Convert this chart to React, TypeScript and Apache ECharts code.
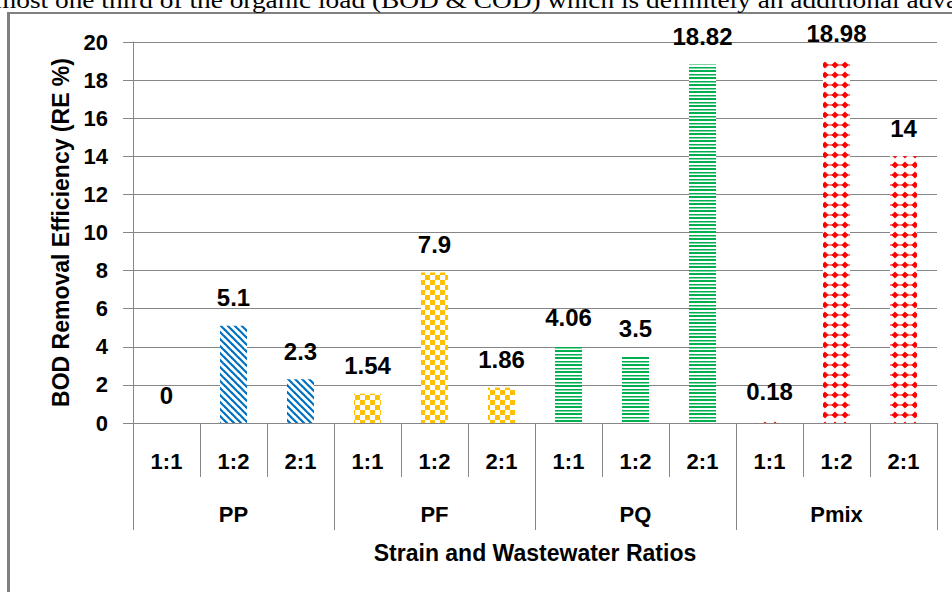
import React, { useEffect, useRef } from "react";
import * as echarts from "echarts";

const ratioLabels = ["1:1", "1:2", "2:1", "1:1", "1:2", "2:1", "1:1", "1:2", "2:1", "1:1", "1:2", "2:1"];
const strainLabels = ["PP", "PF", "PQ", "Pmix"];
const removalEfficiency = [0, 5.1, 2.3, 1.54, 7.9, 1.86, 4.06, 3.5, 18.82, 0.18, 18.98, 14];
const strainColors = ["#0070C0", "#FFC000", "#00B050", "#FF0000"];
const strainPatterns = ["stripes", "checker", "hlines", "diamonds"];
const yMin = 0;
const yMax = 20;
const yInterval = 2;
const yTitle = "BOD Removal Efficiency (RE %)";
const xTitle = "Strain and Wastewater Ratios";
const topText = "most one third of the organic load (BOD & COD) which is definitely an additional advantage";

const FONT = '"Liberation Sans", Arial, sans-serif';
const GRID = "#868686";

function makePattern(kind: string, color: string) {
  const c = document.createElement("canvas");
  let w = 8, h = 8;
  if (kind === "stripes") { w = 7; h = 7; }
  if (kind === "checker") { w = 10; h = 10; }
  if (kind === "hlines") { w = 4; h = 7; }
  if (kind === "diamonds") { w = 10; h = 10; }
  c.width = w; c.height = h;
  const ctx = c.getContext("2d")!;
  ctx.fillStyle = "#fff";
  ctx.fillRect(0, 0, w, h);
  ctx.fillStyle = color;
  ctx.strokeStyle = color;
  if (kind === "stripes") {
    ctx.lineWidth = 2.2;
    for (const off of [-w, 0, w]) {
      ctx.beginPath();
      ctx.moveTo(off - 1, -1);
      ctx.lineTo(off + w + 1, h + 1);
      ctx.stroke();
    }
  } else if (kind === "checker") {
    ctx.fillRect(0, 0, 5, 5);
    ctx.fillRect(5, 5, 5, 5);
  } else if (kind === "hlines") {
    ctx.fillRect(0, 0, w, 2);
    ctx.fillRect(0, 4, w, 1.5);
  } else if (kind === "diamonds") {
    ctx.beginPath();
    ctx.moveTo(5, 1.5);
    ctx.lineTo(8.5, 5);
    ctx.lineTo(5, 8.5);
    ctx.lineTo(1.5, 5);
    ctx.closePath();
    ctx.fill();
    ctx.fillRect(0, 4.5, w, 1);
  }
  return { image: c, repeat: "repeat" } as any;
}

export default function App() {
  const ref = useRef<HTMLDivElement>(null);
  useEffect(() => {
    if (!ref.current) return;
    const chart = echarts.init(ref.current, undefined, { renderer: "svg" });
    const patterns = strainColors.map((col, i) => makePattern(strainPatterns[i], col));
    const data = removalEfficiency.map((v, i) => ({
      value: v,
      itemStyle: { color: patterns[Math.floor(i / 3)] },
    }));
    const labelStyle = { fontFamily: FONT, fontWeight: "bold" as const, color: "#000" };
    chart.setOption({
      animation: false,
      grid: { left: 133, right: 15, top: 42, bottom: 169 },
      xAxis: [
        {
          type: "category",
          data: ratioLabels,
          position: "bottom",
          axisLine: { show: true, lineStyle: { color: GRID, width: 1 } },
          axisTick: { show: true, interval: 0, length: 54, lineStyle: { color: GRID } },
          axisLabel: { ...labelStyle, interval: 0, margin: 27, fontSize: 22 },
        },
        {
          type: "category",
          data: strainLabels,
          position: "bottom",
          gridIndex: 0,
          axisLine: { show: false },
          axisTick: { show: true, interval: 0, length: 107, lineStyle: { color: GRID } },
          axisLabel: { ...labelStyle, interval: 0, margin: 80, fontSize: 22 },
          name: xTitle,
          nameLocation: "middle",
          nameGap: 118,
          nameTextStyle: { ...labelStyle, fontSize: 23 },
        },
      ],
      yAxis: {
        type: "value",
        min: yMin,
        max: yMax,
        interval: yInterval,
        axisLine: { show: true, lineStyle: { color: GRID } },
        axisTick: { show: true, length: 10, lineStyle: { color: GRID } },
        splitLine: { show: true, lineStyle: { color: GRID, width: 1 } },
        axisLabel: { ...labelStyle, margin: 25, fontSize: 22 },
        name: yTitle,
        nameLocation: "middle",
        nameRotate: 90,
        nameGap: 61,
        nameTextStyle: { ...labelStyle, fontSize: 23 },
      },
      series: [
        {
          type: "bar",
          xAxisIndex: 0,
          barWidth: 27,
          data,
          label: { show: true, position: "top", distance: 16, ...labelStyle, fontSize: 24 },
        },
      ],
      graphic: [
        {
          type: "line",
          shape: { x1: 8.5, y1: 12, x2: 8.5, y2: 600 },
          style: { stroke: "#808080", lineWidth: 3 },
        },
        {
          type: "line",
          shape: { x1: 7, y1: 13, x2: 960, y2: 13 },
          style: { stroke: "#808080", lineWidth: 2 },
        },
        {
          type: "text",
          x: -5,
          y: 12,
          scaleX: 1.14,
          style: {
            text: topText,
            font: '24px "Liberation Serif", "Times New Roman", serif',
            fill: "#000",
            verticalAlign: "bottom",
            align: "left",
          },
        },
      ],
    });
    return () => chart.dispose();
  }, []);
  return (
    <div
      ref={ref}
      style={{ position: "absolute", left: 0, top: 0, width: 952, height: 592, background: "#fff" }}
    />
  );
}
